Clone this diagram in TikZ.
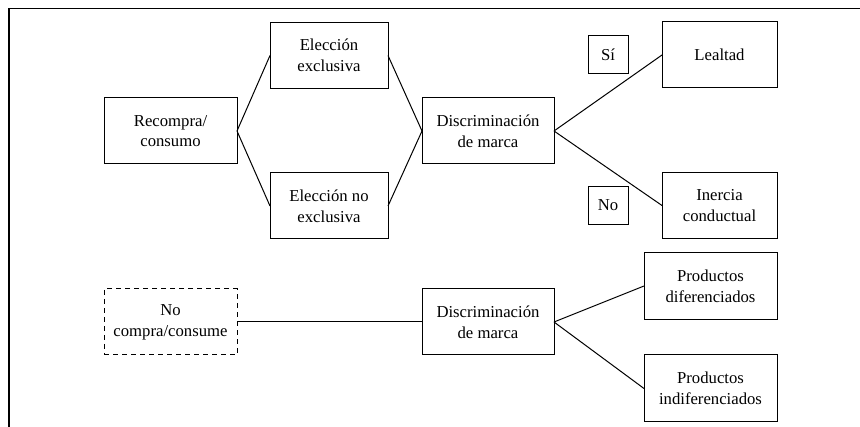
\documentclass[tikz,border=0pt]{standalone}
\usepackage{fontspec}
\setmainfont{Liberation Serif}
\usetikzlibrary{positioning}

\begin{document}
\begin{tikzpicture}[%
            x=1pt, y=-1pt,
            every node/.style={font=\fontsize{16.7}{20.7}\selectfont, align=center},
            box/.style={rectangle, draw, line width=1pt, outer sep=0pt, minimum height=66pt},
            tag/.style={rectangle, draw, line width=1pt, outer sep=0pt, minimum width=40pt, minimum height=38pt},
            link/.style={line width=1pt}
        ]
        \useasboundingbox (0,0) rectangle (860,427);

        % Frame
        \draw[line width=1.4pt] (9,427) -- (9,8.5) -- (860,8.5);

        % First branch
        \node[box, minimum width=133pt] (recompra) at (170.5,131) {Recompra/\\consumo};
        \node[box, minimum width=118pt] (exclusiva) [right=33pt of recompra, yshift=75.5pt] {Elección\\exclusiva};
        \node[box, minimum width=118pt] (noexclusiva) [right=33pt of recompra, yshift=-75pt] {Elección no\\exclusiva};
        \node[box, minimum width=132pt] (discA) [right=34pt of exclusiva, yshift=-75.5pt] {Discriminación\\de marca};

        % Answers
        \node[tag] (si) [right=34pt of discA, yshift=76pt] {Sí};
        \node[tag] (no) [right=34pt of discA, yshift=-74.5pt] {No};
        \node[box, minimum width=115pt] (lealtad) [right=34pt of si] {Lealtad};
        \node[box, minimum width=115pt] (inercia) [right=34pt of no] {Inercia\\conductual};

        % Second branch
        \node[box, dashed, dash pattern=on 5pt off 4pt, minimum width=133pt] (nocompra) [below=125pt of recompra] {No\\compra/consume};
        \node[box, minimum width=132pt] (discB) [below=125pt of discA] {Discriminación\\de marca};
        \node[box, minimum width=133pt, minimum height=67pt] (difer) [right=90pt of discB, yshift=36pt] {Productos\\diferenciados};
        \node[box, minimum width=133pt, minimum height=67pt] (indifer) [right=90pt of discB, yshift=-66.5pt] {Productos\\indiferenciados};

        % Connect first branch
        \draw[link] (recompra.east) -- (exclusiva.west);
        \draw[link] (recompra.east) -- (noexclusiva.west);
        \draw[link] (exclusiva.east) -- (discA.west);
        \draw[link] (noexclusiva.east) -- (discA.west);
        \draw[link] (discA.east) -- (lealtad.west);
        \draw[link] (discA.east) -- (inercia.west);

        % Connect second branch
        \draw[link] (nocompra.east) -- (discB.west);
        \draw[link] (discB.east) -- (difer.west);
        \draw[link] (discB.east) -- (indifer.west);

        \end{tikzpicture}
\end{document}
